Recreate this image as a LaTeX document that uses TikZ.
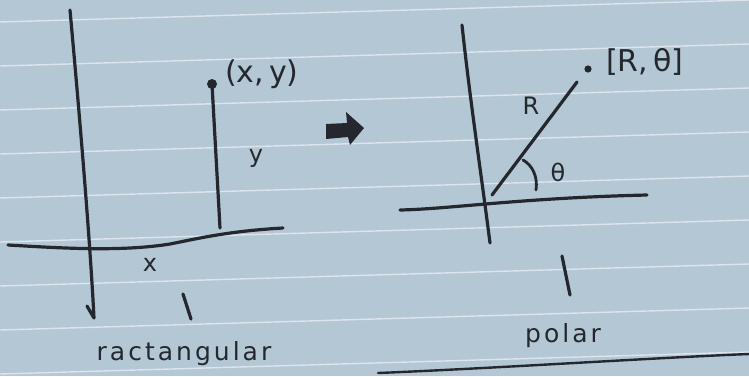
\documentclass[tikz,border=0pt]{standalone}
\usepackage{fontspec}
\setmainfont{DejaVu Sans}
\newfontfamily\spacedhand[LetterSpace=12]{DejaVu Sans}
\begin{document}
\begin{tikzpicture}[x=1pt,y=-1pt,
  ink/.style={draw=inkc,line width=3.2pt,line cap=round,line join=round},
  hand/.style={text=inkc,inner sep=0pt,font=\fontsize{30}{32}\selectfont},
  smallhand/.style={text=inkc,inner sep=0pt,font=\fontsize{24}{26}\selectfont},
  wordhand/.style={text=inkc,inner sep=0pt,font=\spacedhand\fontsize{25}{28}\selectfont},
  rule/.style={draw=rulec,line width=1.4pt}]
\definecolor{paper}{RGB}{180,199,213}
\definecolor{rulec}{RGB}{220,228,237}
\definecolor{inkc}{RGB}{36,40,46}
\useasboundingbox (0,0) rectangle (749,376);
\fill[paper] (0,0) rectangle (749,376);
% ruled lines
\foreach \k in {0,...,8} {
  \draw[rule] (0,{22+44*\k}) -- (749,{0+44*\k});
}
% ---------- rectangular ----------
\coordinate (lvTop) at (70,10);
\coordinate (lvBot) at (94,318);
\draw[ink] (lvTop) .. controls (80,120) and (90,240) .. (lvBot) -- (87,306);
\coordinate (lhL) at (8,245);
\coordinate (lhR) at (283,228);
\draw[ink] (lhL) .. controls (60,248) and (120,252) .. (170,244)
  .. controls (200,238) and (230,231) .. (lhR);
\coordinate (pt) at (212,84);
\coordinate (ptFoot) at (220,228);
\draw[ink] (pt) -- (ptFoot);
\fill[inkc] (pt) circle (5pt);
\node[hand,anchor=west] (xy) at (225,74) {(x,\,y)};
\node[smallhand] (ylab) at (256,158) {y};
\node[smallhand] (xlab) at (150,265) {x};
\coordinate (ltA) at (183,294);
\coordinate (ltB) at (191,319);
\draw[ink] (ltA) -- (ltB);
\node[wordhand] (rect) at (184,354) {ractangular};
% ---------- arrow ----------
\fill[inkc] (326,124) -- (347,123) -- (346,112) -- (364,128) -- (350,145) -- (348,137) -- (326,139) -- cycle;
% ---------- polar ----------
\coordinate (rvTop) at (462,25);
\coordinate (rvBot) at (490,243);
\draw[ink] (rvTop) .. controls (470,100) and (482,180) .. (rvBot);
\coordinate (rhL) at (400,210);
\coordinate (rhR) at (647,195);
\draw[ink] (rhL) .. controls (450,209) and (520,198) .. (rhR);
\coordinate (O) at (492,195);
\coordinate (P) at (577,82);
\draw[ink] (O) -- (P);
\fill[inkc] (588,69) circle (3.6pt);
\node[hand,anchor=west] (rt) at (606,62) {[R,\,θ]};
\node[smallhand] (rlab) at (531,106) {R};
\draw[ink,line width=2.8pt] (523,160) .. controls (532,165) and (538,176) .. (536,190);
\node[smallhand] (tlab) at (558,172) {θ};
\coordinate (rtA) at (562,256);
\coordinate (rtB) at (570,295);
\draw[ink] (rtA) -- (rtB);
\node[wordhand] (polar) at (563,336) {polar};
\coordinate (bl1) at (378,373);
\coordinate (bl2) at (749,354);
\draw[ink,line width=2.4pt] (bl1) .. controls (500,368) and (650,358) .. (bl2);
\end{tikzpicture}
\end{document}
